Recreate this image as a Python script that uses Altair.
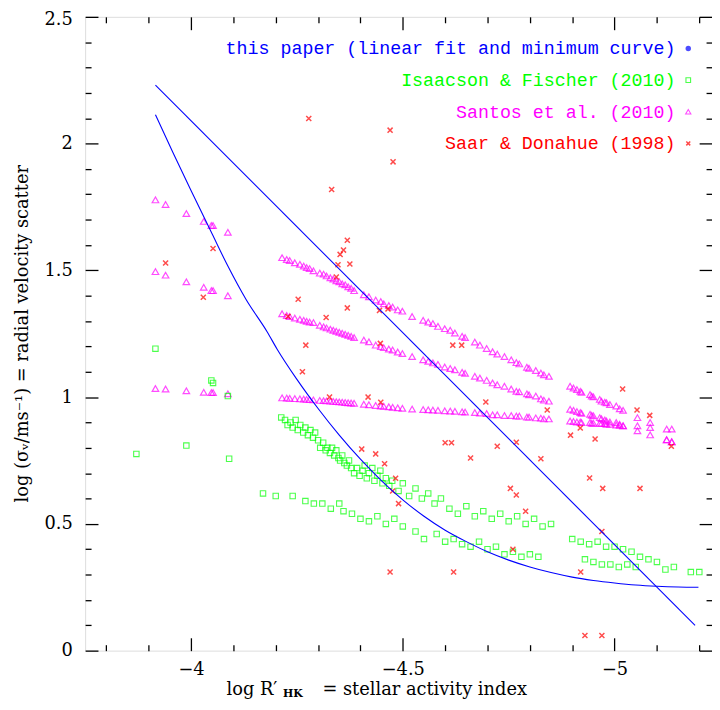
import altair as alt
import pandas as pd

# ---------------- data ----------------
# Santos et al. (2010): one x per star, three predicted values (rows)
santos_x = [-3.916, -3.940, -3.989, -4.030, -4.048, -4.052, -4.087,
            -4.215, -4.226, -4.233, -4.245, -4.257, -4.266, -4.273, -4.280, -4.289,
            -4.304, -4.313, -4.320, -4.329, -4.336, -4.343, -4.350, -4.357, -4.364,
            -4.371, -4.378, -4.385, -4.408, -4.420, -4.436, -4.448, -4.455, -4.467,
            -4.476, -4.488, -4.499, -4.522, -4.548, -4.560, -4.571, -4.583, -4.599,
            -4.612, -4.623, -4.640, -4.647, -4.670, -4.682, -4.698, -4.712, -4.723,
            -4.740, -4.756, -4.768, -4.775, -4.793, -4.798, -4.814, -4.826, -4.833, -4.845,
            -4.895, -4.903, -4.911, -4.919, -4.922, -4.942, -4.946, -4.950, -4.965,
            -4.969, -4.977, -4.981, -4.989, -5.004, -5.012, -5.020,
            -5.054, -5.084, -5.123, -5.135]
santos_top = [1.778, 1.760, 1.724, 1.693, 1.677, 1.677, 1.650,
              1.550, 1.543, 1.539, 1.530, 1.524, 1.517, 1.511, 1.507, 1.498,
              1.489, 1.485, 1.478, 1.471, 1.466, 1.459, 1.455, 1.447, 1.443,
              1.435, 1.429, 1.420, 1.404, 1.396, 1.383, 1.377, 1.368, 1.361,
              1.355, 1.344, 1.339, 1.318, 1.303, 1.296, 1.290, 1.279, 1.270,
              1.264, 1.253, 1.240, 1.235, 1.217, 1.205, 1.192, 1.179, 1.170,
              1.160, 1.147, 1.136, 1.131, 1.118, 1.114, 1.105, 1.095, 1.088, 1.082,
              1.043, 1.036, 1.030, 1.023, 1.019, 1.010, 1.004, 1.001, 0.991,
              0.984, 0.980, 0.978, 0.971, 0.965, 0.954, 0.948,
              0.919, 0.900, 0.874, 0.874]
santos_mid = [1.495, 1.481, 1.455, 1.433, 1.420, 1.420, 1.400,
              1.329, 1.322, 1.318, 1.312, 1.307, 1.303, 1.299, 1.296, 1.294,
              1.283, 1.277, 1.273, 1.268, 1.264, 1.260, 1.256, 1.252, 1.248,
              1.244, 1.240, 1.235, 1.225, 1.218, 1.205, 1.199, 1.195, 1.190,
              1.186, 1.178, 1.172, 1.160, 1.147, 1.141, 1.135, 1.129, 1.119,
              1.113, 1.108, 1.098, 1.094, 1.082, 1.075, 1.066, 1.056, 1.049,
              1.043, 1.032, 1.023, 1.021, 1.013, 1.009, 1.004, 0.993, 0.988, 0.984,
              0.952, 0.948, 0.943, 0.939, 0.936, 0.932, 0.928, 0.926, 0.919,
              0.915, 0.910, 0.906, 0.902, 0.900, 0.893, 0.887,
              0.887, 0.880, 0.832, 0.824]
santos_low = [1.034, 1.032, 1.025, 1.019, 1.018, 1.018, 1.013,
              0.997, 0.996, 0.995, 0.994, 0.993, 0.992, 0.991, 0.990, 0.989,
              0.987, 0.986, 0.985, 0.984, 0.983, 0.982, 0.981, 0.980, 0.979,
              0.978, 0.977, 0.976, 0.972, 0.970, 0.967, 0.965, 0.964, 0.962,
              0.960, 0.958, 0.956, 0.953, 0.951, 0.950, 0.949, 0.948, 0.946,
              0.945, 0.944, 0.942, 0.941, 0.939, 0.937, 0.935, 0.930, 0.930,
              0.927, 0.927, 0.925, 0.925, 0.921, 0.921, 0.918, 0.917, 0.914, 0.914,
              0.906, 0.904, 0.902, 0.902, 0.900, 0.900, 0.897, 0.897, 0.897,
              0.896, 0.896, 0.893, 0.893, 0.890, 0.889, 0.887,
              0.867, 0.851, 0.832, 0.824]

# Isaacson & Fischer (2010)
isaacson_x = [
    -3.871, -3.916, -3.989, -4.048, -4.052, -4.087, -4.090,
    # upper band
    -4.213, -4.222, -4.228, -4.235, -4.240, -4.247, -4.252, -4.258, -4.265, -4.270,
    -4.276, -4.282, -4.288, -4.293, -4.300, -4.305, -4.312, -4.318, -4.322, -4.328,
    -4.333, -4.338, -4.343, -4.348, -4.352, -4.357, -4.362, -4.368, -4.373, -4.378,
    # cluster near the curve
    -4.385, -4.392, -4.398, -4.405, -4.410, -4.415, -4.420, -4.428, -4.433, -4.440,
    -4.447, -4.452, -4.460, -4.468, -4.475,
    -4.49, -4.50, -4.515, -4.53, -4.545, -4.56, -4.575, -4.59,
    # loose middle band
    -4.61, -4.63, -4.65, -4.67, -4.69, -4.71, -4.73, -4.75, -4.77, -4.79, -4.81, -4.83, -4.85,
    # lower band
    -4.17, -4.20, -4.24, -4.27, -4.29, -4.31, -4.33, -4.35, -4.36, -4.38, -4.40, -4.42,
    -4.44, -4.46, -4.48, -4.50, -4.53, -4.55, -4.58, -4.60, -4.62, -4.64, -4.66, -4.68,
    -4.70, -4.72, -4.74, -4.76, -4.78, -4.80, -4.82,
    # right group
    -4.90, -4.92, -4.93, -4.94, -4.95, -4.96, -4.97, -4.98, -4.99, -5.00, -5.01, -5.02,
    -5.03, -5.04, -5.05, -5.06, -5.08, -5.10, -5.12, -5.14, -5.18, -5.20]
isaacson_y = [
    0.776, 1.191, 0.809, 1.066, 1.056, 1.004, 0.757,
    0.92, 0.91, 0.89, 0.90, 0.88, 0.91, 0.87, 0.89, 0.86, 0.88,
    0.85, 0.87, 0.84, 0.86, 0.83, 0.80, 0.82, 0.79, 0.80, 0.78,
    0.80, 0.77, 0.79, 0.76, 0.75, 0.77, 0.74, 0.73, 0.75, 0.72,
    0.70, 0.72, 0.69, 0.71, 0.73, 0.68, 0.70, 0.72, 0.67, 0.69,
    0.71, 0.66, 0.68, 0.65, 0.67,
    0.63, 0.66, 0.61, 0.64, 0.60, 0.62, 0.58, 0.60,
    0.56, 0.54, 0.57, 0.53, 0.55, 0.52, 0.54, 0.51, 0.53, 0.50, 0.52, 0.49, 0.50,
    0.62, 0.61, 0.61, 0.59, 0.58, 0.58, 0.56, 0.58, 0.55, 0.54, 0.52, 0.51,
    0.53, 0.50, 0.52, 0.49, 0.47, 0.44, 0.46, 0.43, 0.44, 0.42, 0.41, 0.43,
    0.40, 0.41, 0.38, 0.39, 0.37, 0.38, 0.37,
    0.44, 0.43, 0.36, 0.42, 0.35, 0.43, 0.34, 0.41, 0.34, 0.41, 0.33, 0.40,
    0.34, 0.39, 0.33, 0.37, 0.36, 0.35, 0.32, 0.33, 0.31, 0.31]

# Saar & Donahue (1998)
saar_x = [-4.278, -4.470, -4.477, -4.332, -4.369, -4.360, -4.352, -4.347, -4.375,
          -4.343, -4.253, -4.369, -4.445, -4.465, -4.319, -4.229, -4.271, -4.447,
          -4.618, -4.639, -3.940, -4.052, -4.029,
          -4.696, -4.841, -5.019, -5.053, -5.083, -5.134, -4.896, -4.919, -4.954,
          -4.723, -4.768, -4.826, -4.941, -4.754, -4.768, -4.972, -5.060,
          -4.93, -4.97, -4.47, -4.62, -4.97,
          -4.263, -4.327, -4.418, -4.448, -4.403, -4.436, -4.457, -4.483, -4.476,
          -4.49, -4.60, -4.615, -4.66, -4.79, -4.76, -4.92]
saar_y = [2.099, 2.053, 1.928, 1.819, 1.619, 1.580, 1.563, 1.522, 1.525,
          1.474, 1.386, 1.352, 1.342, 1.348, 1.314, 1.318, 1.205, 1.212,
          1.205, 1.205, 1.529, 1.586, 1.394,
          0.981, 0.949, 1.032, 0.949, 0.928, 0.806, 0.850, 0.878, 0.835,
          0.806, 0.822, 0.757, 0.681, 0.640, 0.614, 0.640, 0.640,
          0.06, 0.06, 0.31, 0.31, 0.47,
          1.10, 1.00, 1.00, 0.98, 0.795, 0.776, 0.737, 0.68, 0.63,
          0.58, 0.82, 0.82, 0.76, 0.55, 0.40, 0.31]

# this paper: linear fit and minimum curve
fit_x = [-3.916, -5.19]
fit_y = [2.231, 0.10]
curve_x = [-3.916, -3.957, -4.00, -4.05, -4.087, -4.13, -4.180, -4.203, -4.25, -4.30,
           -4.35, -4.40, -4.45, -4.50, -4.55, -4.60, -4.65, -4.70, -4.75, -4.80,
           -4.85, -4.90, -4.95, -5.00, -5.05, -5.10, -5.15, -5.198]
curve_y = [2.114, 1.966, 1.815, 1.643, 1.517, 1.385, 1.257, 1.190, 1.070, 0.955,
           0.850, 0.755, 0.670, 0.595, 0.530, 0.475, 0.430, 0.390, 0.357, 0.330,
           0.308, 0.290, 0.277, 0.267, 0.259, 0.254, 0.251, 0.250]

legend_labels = ["this paper (linear fit and minimum curve)",
                 "Isaacson & Fischer (2010)",
                 "Santos et al. (2010)",
                 "Saar & Donahue (1998)"]

x_major = [-4.0, -4.5, -5.0]
y_major = [0.0, 0.5, 1.0, 1.5, 2.0, 2.5]
x_ticks = [round(-3.8 - 0.1 * i, 1) for i in range(15)]
y_ticks = [round(0.1 * i, 1) for i in range(26)]

# ---------------- styling ----------------
W, H = 634, 641
BLUE, GREEN, MAGENTA, RED = "#0000ff", "#00ff00", "#ff00ff", "#ff0000"
SERIF = "DejaVu Serif"
MONO = "Liberation Mono"
XSHAPE = "M-1,-1L1,1M-1,1L1,-1"

xs = alt.Scale(domain=[-3.75, -5.23], nice=False, zero=False)
ys = alt.Scale(domain=[0, 2.5], nice=False, zero=False)

MAJ = "abs(datum.value*2 - round(datum.value*2)) < 0.01"
tick_common = dict(labels=False, domain=False, grid=False, ticks=True,
                   tickColor="black", tickWidth=1.3,
                   tickSize={"condition": {"test": MAJ, "value": 13}, "value": 6},
                   title=None)

ax_x_lab = alt.Axis(orient="bottom", values=x_major, ticks=False, domain=False, grid=False,
                    labelFont=SERIF, labelFontSize=18, labelColor="black",
                    labelPadding=10, format=".1~f", title=None)
ax_x_bot = alt.Axis(orient="top", offset=-H, values=x_ticks, **tick_common)
ax_x_top = alt.Axis(orient="bottom", offset=-H, values=x_ticks, **tick_common)

ax_y_lab = alt.Axis(orient="left", values=y_major, ticks=False, domain=False, grid=False,
                    labelFont=SERIF, labelFontSize=18, labelColor="black",
                    labelOffset={"condition": {"test": "datum.value > 2.4", "value": 3}, "value": 0},
                    labelPadding=13, format=".1~f", title=None)
ax_y_l = alt.Axis(orient="right", offset=-W, values=y_ticks, **tick_common)
ax_y_r = alt.Axis(orient="left", offset=-W, values=y_ticks, **tick_common)

# ---------------- tables ----------------
santos_df = pd.DataFrame({
    "x": santos_x * 3,
    "y": santos_top + santos_mid + santos_low,
})
isaacson_df = pd.DataFrame({"x": isaacson_x, "y": isaacson_y})
saar_df = pd.DataFrame({"x": saar_x, "y": saar_y})
fit_df = pd.DataFrame({"x": fit_x, "y": fit_y})
curve_df = pd.DataFrame({"x": curve_x, "y": curve_y})
one = pd.DataFrame({"a": [0]})

santos = alt.Chart(santos_df).mark_point(
    shape="triangle-up", filled=False, color=MAGENTA, size=44, strokeWidth=1.2
).encode(x=alt.X("x:Q", scale=xs, axis=ax_x_lab), y=alt.Y("y:Q", scale=ys, axis=ax_y_lab))

isaacson = alt.Chart(isaacson_df).mark_point(
    shape="square", filled=False, color=GREEN, size=30, strokeWidth=1.1
).encode(x=alt.X("x:Q", scale=xs, axis=ax_x_bot), y=alt.Y("y:Q", scale=ys, axis=ax_y_l))

saar = alt.Chart(saar_df).mark_point(
    shape=XSHAPE, filled=False, color=RED, size=26, strokeWidth=1.5
).encode(x=alt.X("x:Q", scale=xs, axis=ax_x_top), y=alt.Y("y:Q", scale=ys, axis=ax_y_r))

fit = alt.Chart(fit_df).mark_line(color=BLUE, strokeWidth=1.1).encode(
    x=alt.X("x:Q", scale=xs, axis=None), y=alt.Y("y:Q", scale=ys, axis=None))
curve = alt.Chart(curve_df).mark_line(color=BLUE, strokeWidth=1.1, interpolate="monotone").encode(
    x=alt.X("x:Q", scale=xs, axis=None), y=alt.Y("y:Q", scale=ys, axis=None))

# legend (text + symbol)
leg_y = [32, 64, 96, 128]
leg_col = [BLUE, GREEN, MAGENTA, RED]
legend_layers = []
for lab, yy, col in zip(legend_labels, leg_y, leg_col):
    legend_layers.append(
        alt.Chart(one).mark_text(text=lab, color=col, font=MONO, fontSize=18.5,
                                 align="right", baseline="middle")
        .encode(x=alt.value(597), y=alt.value(yy)))
legend_layers.append(alt.Chart(one).mark_point(shape="circle", filled=True, color=BLUE, size=30)
                     .encode(x=alt.value(610), y=alt.value(leg_y[0])))
legend_layers.append(alt.Chart(one).mark_point(shape="square", filled=False, color=GREEN, size=22, strokeWidth=1.1)
                     .encode(x=alt.value(610), y=alt.value(leg_y[1])))
legend_layers.append(alt.Chart(one).mark_point(shape="triangle-up", filled=False, color=MAGENTA, size=28, strokeWidth=1.1)
                     .encode(x=alt.value(610), y=alt.value(leg_y[2])))
legend_layers.append(alt.Chart(one).mark_point(shape=XSHAPE, filled=False, color=RED, size=16, strokeWidth=1.5)
                     .encode(x=alt.value(610), y=alt.value(leg_y[3])))

# axis titles built from text pieces (sub/superscripts)
titles = [
    alt.Chart(one).mark_text(text="log R\u2032", font=SERIF, fontSize=18, align="left",
                             baseline="middle", color="black")
    .encode(x=alt.value(143), y=alt.value(681)),
    alt.Chart(one).mark_text(text="HK", font=SERIF, fontSize=11, fontWeight="bold", align="left",
                             baseline="middle", color="black")
    .encode(x=alt.value(200), y=alt.value(685)),
    alt.Chart(one).mark_text(text="=  stellar activity index", font=SERIF, fontSize=18, align="left",
                             baseline="middle", color="black")
    .encode(x=alt.value(240), y=alt.value(681)),
    alt.Chart(one).mark_text(text="log (\u03c3\u1d65/ms\u207b\u00b9)  =  radial velocity scatter",
                             font=SERIF, fontSize=18, angle=270, align="center",
                             baseline="middle", color="black")
    .encode(x=alt.value(-63), y=alt.value(H / 2)),
]

chart = alt.layer(santos, isaacson, saar, fit, curve, *legend_layers, *titles).resolve_axis(
    x="independent", y="independent"
).properties(
    width=W, height=H,
    autosize=alt.AutoSizeParams(type="none"),
    padding={"left": 78, "top": 5, "right": 0, "bottom": 48},
).configure_view(stroke="black", strokeWidth=2).configure(background="white")

chart.save("out.html", embed_options={"renderer": "svg", "actions": False})
